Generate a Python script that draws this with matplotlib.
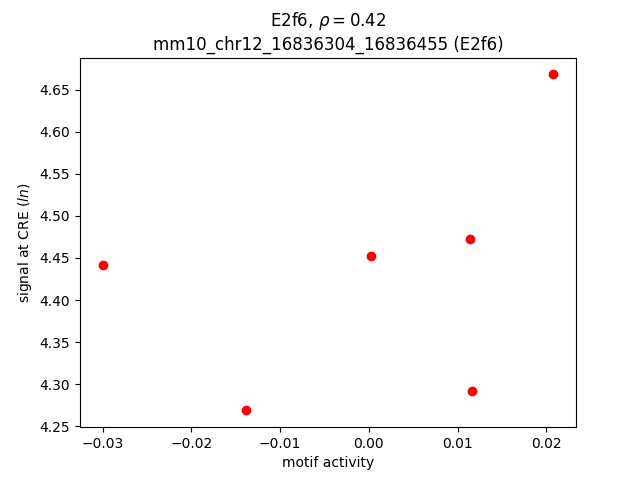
import matplotlib
matplotlib.use("Agg")
import matplotlib.pyplot as plt

motif_activity = [-0.0300, -0.0138, 0.0002, 0.0114, 0.0116, 0.0208]
signal = [4.442, 4.269, 4.452, 4.472, 4.292, 4.668]

fig, ax = plt.subplots(figsize=(6.4, 4.8), dpi=100)
ax.scatter(motif_activity, signal, color="red")
ax.set_xlabel("motif activity")
ax.set_ylabel("signal at CRE ($ln$)")
ax.set_title("E2f6, $\\rho = 0.42$\nmm10_chr12_16836304_16836455 (E2f6)")
fig.savefig("out.png")
